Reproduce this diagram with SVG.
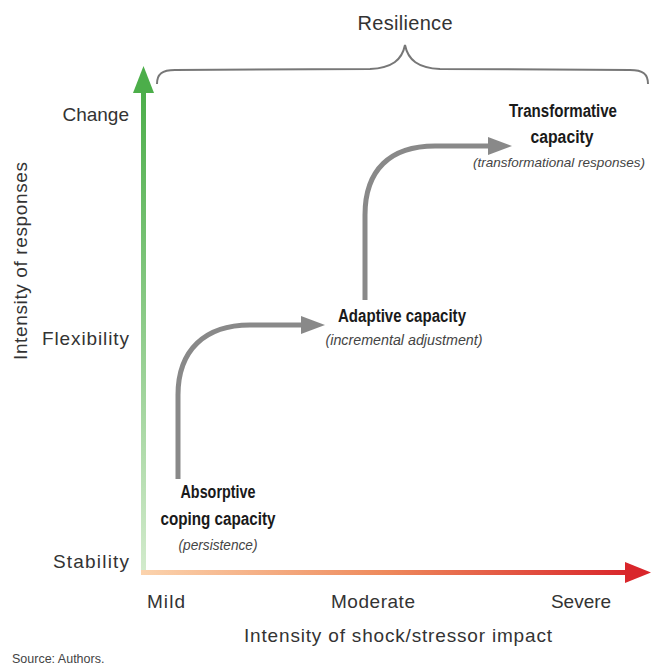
<svg xmlns="http://www.w3.org/2000/svg" width="652" height="666" viewBox="0 0 652 666">
  <style>
    .lbl { font-family: "Liberation Sans", Arial, sans-serif; font-size: 19px; fill: #333; }
    .bold { font-family: "Liberation Sans", Arial, sans-serif; font-size: 18px; font-weight: bold; fill: #1a1a1a; }
    .note { font-family: "Liberation Sans", Arial, sans-serif; font-size: 14px; font-style: italic; fill: #444; }
    .flow { fill: none; stroke: #898989; stroke-width: 5; }
    .brace { fill: none; stroke: #777; stroke-width: 2; }
  </style>
  <defs>
    <linearGradient id="gradY" x1="0" y1="0" x2="0" y2="1">
      <stop offset="0" stop-color="#4cae4a"/>
      <stop offset="1" stop-color="#d3ebcd"/>
    </linearGradient>
    <linearGradient id="gradX" x1="0" y1="0" x2="1" y2="0">
      <stop offset="0" stop-color="#fbd3ad"/>
      <stop offset="0.5" stop-color="#ee8a5c"/>
      <stop offset="1" stop-color="#d9262b"/>
    </linearGradient>
    <marker id="head" markerUnits="userSpaceOnUse" markerWidth="26" markerHeight="20" refX="2" refY="9" orient="auto">
      <polygon points="0,0 24,9 0,18" fill="#898989"/>
    </marker>
  </defs>

  <rect width="652" height="666" fill="#fff"/>

  <!-- axes -->
  <g id="axis-y">
    <rect x="141" y="90" width="5" height="484" fill="url(#gradY)"/>
    <polygon points="133,93 143.5,66 154,93" fill="#4cae4a"/>
    <text class="lbl" x="129" y="121" text-anchor="end">Change</text>
    <text class="lbl" x="129" y="345" text-anchor="end" textLength="87" lengthAdjust="spacing">Flexibility</text>
    <text class="lbl" x="129" y="568" text-anchor="end" textLength="76" lengthAdjust="spacing">Stability</text>
    <text class="lbl" x="27" y="261" text-anchor="middle" transform="rotate(-90 27 261)" textLength="198" lengthAdjust="spacing">Intensity of responses</text>
  </g>

  <g id="axis-x">
    <rect x="141" y="570" width="488" height="5" fill="url(#gradX)"/>
    <polygon points="625,562 651,572.5 625,583" fill="#d9262b"/>
    <text class="lbl" x="166" y="608" text-anchor="middle" textLength="38" lengthAdjust="spacing">Mild</text>
    <text class="lbl" x="373" y="608" text-anchor="middle" textLength="84" lengthAdjust="spacing">Moderate</text>
    <text class="lbl" x="581" y="608" text-anchor="middle">Severe</text>
    <text class="lbl" x="398" y="642" text-anchor="middle" textLength="308" lengthAdjust="spacing">Intensity of shock/stressor impact</text>
  </g>

  <!-- resilience brace -->
  <g id="resilience">
    <path class="brace" d="M157,84 C157,74 162,70 175,70 L370,69 C392,68 402,60 405,45 C408,60 418,68 440,69 L630,70 C643,70 648,74 648,84"/>
    <text class="lbl" x="405" y="30" text-anchor="middle" style="font-size:20px" textLength="95" lengthAdjust="spacing">Resilience</text>
  </g>

  <!-- capacities -->
  <g id="absorptive">
    <text class="bold" x="218" y="498" text-anchor="middle" textLength="75" lengthAdjust="spacingAndGlyphs">Absorptive</text>
    <text class="bold" x="218" y="525" text-anchor="middle" textLength="115" lengthAdjust="spacingAndGlyphs">coping capacity</text>
    <text class="note" x="218" y="550" text-anchor="middle" textLength="79" lengthAdjust="spacingAndGlyphs">(persistence)</text>
  </g>

  <g id="adaptive">
    <text class="bold" x="402" y="322" text-anchor="middle" textLength="128" lengthAdjust="spacingAndGlyphs">Adaptive capacity</text>
    <text class="note" x="404" y="345" text-anchor="middle" textLength="157" lengthAdjust="spacingAndGlyphs">(incremental adjustment)</text>
  </g>

  <g id="transformative">
    <text class="bold" x="563" y="117" text-anchor="middle" textLength="108" lengthAdjust="spacingAndGlyphs">Transformative</text>
    <text class="bold" x="562" y="143" text-anchor="middle" textLength="63" lengthAdjust="spacingAndGlyphs">capacity</text>
    <text class="note" x="559" y="167" text-anchor="middle" style="font-size:13.5px">(transformational responses)</text>
  </g>

  <!-- connectors -->
  <g id="connectors">
    <path class="flow" d="M178,479 L178,395 C178,350 205,325 250,325 L303,325" marker-end="url(#head)"/>
    <path class="flow" d="M365,300 L365,215 C365,170 390,146 435,146 L490,146" marker-end="url(#head)"/>
  </g>

  <text x="12" y="663" style="font-family:'Liberation Sans', Arial, sans-serif; font-size:12.5px; fill:#444">Source: Authors.</text>
</svg>
